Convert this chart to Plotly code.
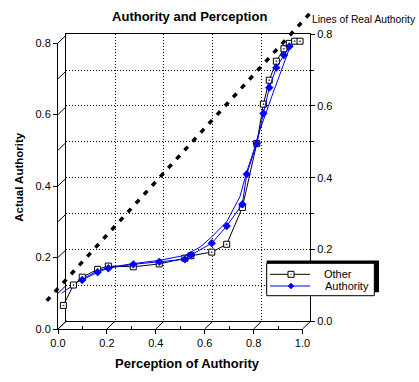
import plotly.graph_objects as go

# ---------------- data ----------------
title_text = "Authority and Perception"
x_title = "Perception of Authority"
y_title = "Actual Authority"
real_label = "Lines of Real Authority"
legend_names = ["Other", "Authority"]

x_ticks = [0.0, 0.2, 0.4, 0.6, 0.8, 1.0]
y_ticks = [0.0, 0.2, 0.4, 0.6, 0.8]
y_minor = [0.0, 0.1, 0.2, 0.3, 0.4, 0.5, 0.6, 0.7, 0.8]

other_x = [0.022, 0.063, 0.099, 0.162, 0.206, 0.308, 0.414, 0.519, 0.544, 0.629,
           0.690, 0.754, 0.813, 0.840, 0.864, 0.893, 0.924, 0.946, 0.968, 0.990]
other_y = [0.066, 0.123, 0.145, 0.167, 0.176, 0.174, 0.182, 0.198, 0.205, 0.215,
           0.237, 0.340, 0.519, 0.629, 0.696, 0.749, 0.784, 0.799, 0.805, 0.805]

auth_x = [0.099, 0.162, 0.206, 0.308, 0.414, 0.519, 0.544, 0.629, 0.690, 0.754,
          0.772, 0.813, 0.840, 0.864, 0.893, 0.924, 0.946]
auth_y = [0.137, 0.159, 0.170, 0.181, 0.188, 0.195, 0.207, 0.240, 0.288, 0.349,
          0.433, 0.519, 0.603, 0.675, 0.731, 0.766, 0.790]

fit_x = [0.015, 0.063, 0.099, 0.162, 0.206, 0.308, 0.414, 0.519, 0.581, 0.629,
         0.690, 0.744, 0.772, 0.799, 0.826, 0.874, 0.908, 0.942, 0.953]
fit_y = [0.100, 0.124, 0.140, 0.162, 0.172, 0.183, 0.192, 0.206, 0.229, 0.258,
         0.300, 0.370, 0.440, 0.496, 0.557, 0.650, 0.715, 0.780, 0.797]

real_x = [-0.046, 1.037]
real_y = [0.079, 0.888]

# ---------------- layout geometry (pixels) ----------------
W, H = 419, 382
FX0, FX1 = 58.0, 302.5      # front x-axis: value 0 and 1
FY0, FY8 = 329.0, 43.0      # front y-axis: value 0 and 0.8
BX0, BX1 = 66.3, 310.0      # back plane x
BY0, BY8 = 321.0, 34.3      # back plane y


def fx(p):
    return p / W


def fy(p):
    return (H - p) / H


sx = (FX1 - FX0) / 1.0
sy = (FY0 - FY8) / 0.8
x3_range = [(0 - FX0) / sx, (W - FX0) / sx]
y3_range = [(FY0 - H) / sy, FY0 / sy]
dxu = (BX0 - FX0) / sx
dyu = (FY0 - BY0) / sy

FONT = "Liberation Sans, Arial, sans-serif"
BLUE = "#0000ff"

fig = go.Figure()

# placeholder traces so the back-plane and front-axis subplots are drawn
fig.add_trace(go.Scatter(x=[None], y=[None], xaxis="x", yaxis="y",
                         showlegend=False, hoverinfo="skip"))
fig.add_trace(go.Scatter(x=[None], y=[None], xaxis="x2", yaxis="y2",
                         showlegend=False, hoverinfo="skip"))

# depth connectors (pseudo-3D box)
dx_pts, dy_pts = [], []
for v in y_minor:
    dx_pts += [0, dxu, None]
    dy_pts += [v, v + dyu, None]
for v in x_ticks:
    dx_pts += [v, v + dxu, None]
    dy_pts += [0, dyu, None]
fig.add_trace(go.Scatter(x=dx_pts, y=dy_pts, mode="lines", xaxis="x3", yaxis="y3",
                         line=dict(color="black", width=1), showlegend=False,
                         hoverinfo="skip"))

# line of real authority
fig.add_trace(go.Scatter(x=real_x, y=real_y, mode="lines", xaxis="x3", yaxis="y3",
                         line=dict(color="black", width=3.5, dash="5px,7px"),
                         showlegend=False, hoverinfo="skip"))

# fitted curve
fig.add_trace(go.Scatter(x=fit_x, y=fit_y, mode="lines", xaxis="x3", yaxis="y3",
                         line=dict(color=BLUE, width=1), showlegend=False))

fig.add_trace(go.Scatter(x=other_x, y=other_y, mode="lines+markers", name=legend_names[0],
                         xaxis="x3", yaxis="y3", showlegend=False,
                         line=dict(color="black", width=1),
                         marker=dict(symbol="square-dot", size=6, color="white",
                                     line=dict(color="black", width=1))))
fig.add_trace(go.Scatter(x=auth_x, y=auth_y, mode="lines+markers", name=legend_names[1],
                         xaxis="x3", yaxis="y3", showlegend=False,
                         line=dict(color=BLUE, width=1),
                         marker=dict(symbol="diamond", size=6, color=BLUE,
                                     line=dict(color=BLUE, width=0.5))))

tickfont = dict(family=FONT, size=11, color="black")
dotgrid = dict(showgrid=True, gridcolor="black", gridwidth=1, griddash="1px,2px")

# ---------------- hand-built legend with shadow ----------------
LX0, LX1, LY0, LY1 = 266.7, 374.3, 263.3, 295.7
rows = [274.3, 286.0]
shapes = [
    dict(type="rect", xref="paper", yref="paper", x0=fx(LX0), x1=fx(379),
         y0=fy(292.3), y1=fy(260.5), fillcolor="black", line=dict(width=0),
         layer="above"),
    dict(type="rect", xref="paper", yref="paper", x0=fx(LX0), x1=fx(LX1),
         y0=fy(LY1), y1=fy(LY0), fillcolor="white",
         line=dict(color="black", width=1), layer="above"),
]
for ry, col in zip(rows, ["black", BLUE]):
    shapes.append(dict(type="line", xref="paper", yref="paper", x0=fx(270), x1=fx(310),
                       y0=fy(ry), y1=fy(ry), line=dict(color=col, width=1),
                       layer="above"))
shapes.append(dict(type="rect", xref="paper", yref="paper", x0=fx(288), x1=fx(294),
                   y0=fy(rows[0] + 3), y1=fy(rows[0] - 3), fillcolor="white",
                   line=dict(color="black", width=1), layer="above"))
shapes.append(dict(type="rect", xref="paper", yref="paper", x0=fx(290.5), x1=fx(291.5),
                   y0=fy(rows[0] + 0.5), y1=fy(rows[0] - 0.5), fillcolor="black",
                   line=dict(width=0), layer="above"))
shapes.append(dict(type="path", xref="paper", yref="paper",
                   path=(f"M {fx(291)} {fy(rows[1]-3)} L {fx(294)} {fy(rows[1])} "
                         f"L {fx(291)} {fy(rows[1]+3)} L {fx(288)} {fy(rows[1])} Z"),
                   fillcolor=BLUE, line=dict(color=BLUE, width=0.5), layer="above"))

annotations = [
    dict(text=real_label, x=fx(310.7), y=fy(19.7), xref="paper", yref="paper",
         xanchor="left", yanchor="middle", showarrow=False, borderpad=0,
         font=dict(family=FONT, size=10.3, color="black")),
    dict(text=x_title, x=fx(187), y=fy(363.3), xref="paper", yref="paper",
         xanchor="center", yanchor="middle", showarrow=False,
         font=dict(family=FONT, size=13, weight="bold", color="black")),
    dict(text=y_title, x=fx(18.3), y=fy(176.5), xref="paper", yref="paper",
         xanchor="center", yanchor="middle", showarrow=False, textangle=-90,
         font=dict(family=FONT, size=11.5, weight="bold", color="black")),
    dict(text=legend_names[0], x=fx(322.7), y=fy(rows[0]), xref="paper", yref="paper",
         xanchor="left", yanchor="middle", showarrow=False, borderpad=0,
         font=dict(family=FONT, size=11, color="black")),
    dict(text=legend_names[1], x=fx(324), y=fy(rows[1]), xref="paper", yref="paper",
         xanchor="left", yanchor="middle", showarrow=False, borderpad=0,
         font=dict(family=FONT, size=11, color="black")),
]

noauto = dict(automargin=False)

fig.update_layout(
    template="none",
    width=W, height=H, autosize=False,
    margin=dict(l=0, r=0, t=0, b=0, pad=0, autoexpand=False),
    paper_bgcolor="white", plot_bgcolor="rgba(0,0,0,0)",
    font=dict(family=FONT, size=11, color="black"),
    title=dict(text=title_text, x=fx(189.7), y=fy(16.7), xanchor="center",
               yanchor="middle", xref="paper", yref="paper", automargin=False,
               font=dict(family=FONT, size=13, weight="bold", color="black")),
    # back plane
    xaxis=dict(domain=[fx(BX0), fx(BX1)], range=[0, 1], anchor="y",
               showline=True, mirror=True, linecolor="black", linewidth=1,
               ticks="", showticklabels=False, zeroline=False,
               tickmode="array", tickvals=x_ticks, **dotgrid, **noauto),
    yaxis=dict(domain=[fy(BY0), fy(BY8)], range=[0, 0.8], anchor="x", side="right",
               showline=True, mirror=True, linecolor="black", linewidth=1,
               ticks="outside", ticklen=4, tickcolor="black",
               tickmode="array", tickvals=y_ticks,
               ticktext=[f"{v:.1f}" for v in y_ticks], tickfont=tickfont,
               zeroline=False,
               minor=dict(tickmode="array", tickvals=y_minor, ticks="outside",
                          ticklen=3, tickcolor="black", showgrid=True,
                          gridcolor="black", gridwidth=1, griddash="1px,2px"),
               **dotgrid, **noauto),
    # front axes
    xaxis2=dict(domain=[fx(FX0), fx(FX1)], range=[0, 1], anchor="y2",
                showline=True, linecolor="black", linewidth=1, showgrid=False,
                zeroline=False, ticks="outside", ticklen=4, tickcolor="black",
                tickmode="array", tickvals=x_ticks,
                ticktext=[f"{v:.1f}" for v in x_ticks], tickfont=tickfont,
                minor=dict(tickmode="array", tickvals=[0.1, 0.3, 0.5, 0.7, 0.9],
                           ticks="inside", ticklen=3, tickcolor="black"), **noauto),
    yaxis2=dict(domain=[fy(FY0), fy(FY8)], range=[0, 0.8], anchor="x2",
                showline=True, linecolor="black", linewidth=1, showgrid=False,
                zeroline=False, ticks="outside", ticklen=4, tickcolor="black",
                tickmode="array", tickvals=y_ticks,
                ticktext=[f"{v:.1f}" for v in y_ticks], tickfont=tickfont, **noauto),
    # full-figure overlay for data, aligned with front axes
    xaxis3=dict(domain=[0, 1], range=x3_range, anchor="y3", visible=False, **noauto),
    yaxis3=dict(domain=[0, 1], range=y3_range, anchor="x3", visible=False, **noauto),
    showlegend=False,
    hovermode=False,
    shapes=shapes,
    annotations=annotations,
)

fig.write_html("out.html",
               config={"displayModeBar": False, "staticPlot": True},
               post_script="document.body.style.margin='0px';"
                           "document.body.style.overflow='hidden';")
